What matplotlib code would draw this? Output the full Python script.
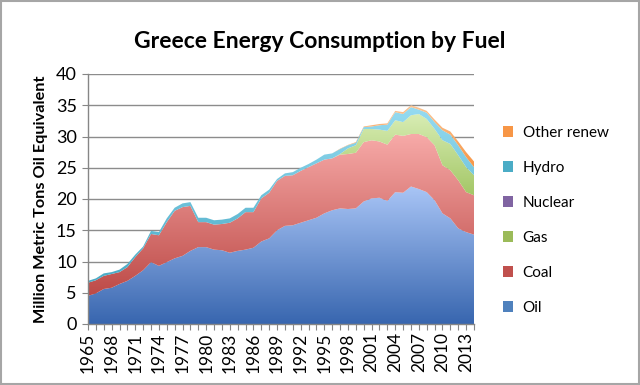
import numpy as np
import matplotlib
matplotlib.use('Agg')
import matplotlib.pyplot as plt
from matplotlib.patches import Rectangle, Patch
from matplotlib.colors import LinearSegmentedColormap

plt.rcParams['font.family'] = ['Lato', 'DejaVu Sans']

years = list(range(1965, 2015))

oil = [4.5, 4.9, 5.6, 5.8, 6.4, 6.9, 7.7, 8.6, 9.9, 9.3,
       9.9, 10.5, 10.9, 11.7, 12.3, 12.3, 11.9, 11.8, 11.4, 11.7,
       11.9, 12.2, 13.2, 13.7, 15.0, 15.7, 15.8, 16.2, 16.6, 17.0,
       17.7, 18.2, 18.5, 18.4, 18.5, 19.6, 20.1, 20.2, 19.7, 21.1,
       21.0, 22.0, 21.6, 21.1, 19.8, 17.7, 16.9, 15.3, 14.7, 14.3]

coal = [2.1, 2.1, 2.1, 2.2, 1.9, 2.2, 3.0, 3.5, 4.5, 4.9,
        6.4, 7.6, 7.8, 7.2, 4.0, 4.0, 4.0, 4.2, 4.8, 5.2,
        6.0, 5.7, 6.9, 7.3, 7.9, 8.0, 8.0, 8.3, 8.5, 8.7,
        8.6, 8.3, 8.6, 8.8, 8.9, 9.5, 9.3, 9.0, 9.0, 9.2,
        9.1, 8.4, 8.8, 8.8, 8.8, 7.7, 7.7, 7.7, 6.4, 6.3]

gas = [0, 0, 0, 0, 0, 0, 0, 0, 0, 0,
       0, 0, 0, 0, 0, 0, 0, 0, 0, 0,
       0, 0, 0, 0, 0, 0, 0, 0, 0, 0,
       0, 0, 0.1, 0.9, 1.2, 2.1, 1.8, 1.9, 2.2, 2.3,
       2.2, 3.0, 3.2, 2.9, 2.6, 4.0, 4.2, 4.0, 4.0, 3.2]

nuclear = [0, 0, 0, 0, 0, 0, 0, 0, 0, 0,
           0, 0, 0, 0, 0, 0, 0, 0, 0, 0,
           0, 0, 0, 0, 0, 0, 0, 0, 0, 0,
           0, 0, 0, 0, 0, 0, 0, 0, 0, 0,
           0, 0, 0, 0, 0, 0, 0, 0, 0, 0]

hydro = [0.3, 0.3, 0.4, 0.3, 0.4, 0.5, 0.4, 0.3, 0.5, 0.5,
         0.6, 0.5, 0.6, 0.6, 0.7, 0.7, 0.7, 0.7, 0.7, 0.7,
         0.7, 0.7, 0.5, 0.5, 0.3, 0.4, 0.5, 0.5, 0.5, 0.6,
         0.8, 0.8, 0.8, 0.5, 0.4, 0.3, 0.4, 0.7, 1.0, 1.3,
         1.3, 1.3, 0.7, 1.0, 1.1, 1.6, 1.5, 1.6, 1.6, 1.3]

other_renew = [0, 0, 0, 0, 0, 0, 0, 0, 0, 0,
               0, 0, 0, 0, 0, 0, 0, 0, 0, 0,
               0, 0, 0, 0, 0, 0, 0, 0, 0, 0,
               0, 0, 0.05, 0.05, 0.1, 0.1, 0.2, 0.2, 0.2, 0.2,
               0.3, 0.3, 0.3, 0.3, 0.4, 0.4, 0.5, 0.6, 0.8, 0.9]

series_names = ['Oil', 'Coal', 'Gas', 'Nuclear', 'Hydro', 'Other renew']
series_values = [oil, coal, gas, nuclear, hydro, other_renew]
grad_colors = [('#A9C5F6', '#3866AF'),
               ('#F7AAA8', '#BD4A47'),
               ('#D8EDB4', '#A4C767'),
               ('#B3A2C7', '#8064A2'),
               ('#95DBF1', '#49AAC5'),
               ('#FBC493', '#F79646')]
legend_colors = ['#4F81BD', '#C0504D', '#9BBB59', '#8064A2', '#4BACC6', '#F79646']

fig = plt.figure(figsize=(6.4, 3.85), dpi=100)
fig.patches.append(Rectangle((0.001, 0.003), 0.997, 0.995, transform=fig.transFigure,
                             fill=False, edgecolor='#a6a6a6', linewidth=1.5))

ax = fig.add_axes([88/640, 1-324/385, (474-88)/640, (324-74)/385])

x = np.array(years, dtype=float)
base = np.zeros(len(years))
for name, vals, (ctop, cbot) in zip(series_names, series_values, grad_colors):
    v = np.array(vals, dtype=float)
    top = base + v
    if v.max() > 0:
        poly = ax.fill_between(x, base, top, facecolor='none', edgecolor='none',
                               linewidth=0, zorder=2)
        mask = v > 0
        ymin = base[mask].min()
        ymax = top[mask].max()
        cmap = LinearSegmentedColormap.from_list(name, [cbot, ctop])
        grad = np.linspace(0, 1, 256).reshape(-1, 1)
        im = ax.imshow(grad, cmap=cmap, extent=[x[0], x[-1], ymin, ymax],
                       origin='lower', aspect='auto', zorder=2,
                       interpolation='bilinear')
        im.set_clip_path(poly.get_paths()[0], transform=ax.transData)
    base = top

ax.set_xlim(1965, 2014)
ax.set_ylim(0, 40)
ax.set_aspect('auto')
ax.set_yticks(range(0, 41, 5))
ax.set_xticks(years)
ax.set_xticklabels([str(y) if (y - 1965) % 3 == 0 else '' for y in years],
                   rotation=90, fontsize=12.5)
ax.tick_params(axis='y', labelsize=13, length=4, color='#868686', pad=4)
ax.tick_params(axis='x', length=4, color='#868686', pad=2)
ax.set_axisbelow(True)
ax.yaxis.grid(True, color='#8c8c8c', linewidth=1)
for s in ['top', 'right']:
    ax.spines[s].set_visible(False)
for s in ['left', 'bottom']:
    ax.spines[s].set_color('#868686')
    ax.spines[s].set_linewidth(1)

ax.set_ylabel('Million Metric Tons Oil Equivalent', fontsize=11.7, fontweight='bold',
              labelpad=6)
fig.text(0.5, 0.893, 'Greece Energy Consumption by Fuel', ha='center', va='center',
         fontsize=16.5, fontweight='bold')

handles = [Patch(facecolor=c, edgecolor='none') for c in legend_colors][::-1]
labels = series_names[::-1]
fig.legend(handles, labels, loc='upper left', bbox_to_anchor=(0.764, 0.708),
           frameon=False, fontsize=11, handlelength=0.7, handleheight=0.7,
           handletextpad=0.6, labelspacing=1.37)

fig.savefig('out.png', dpi=100)
